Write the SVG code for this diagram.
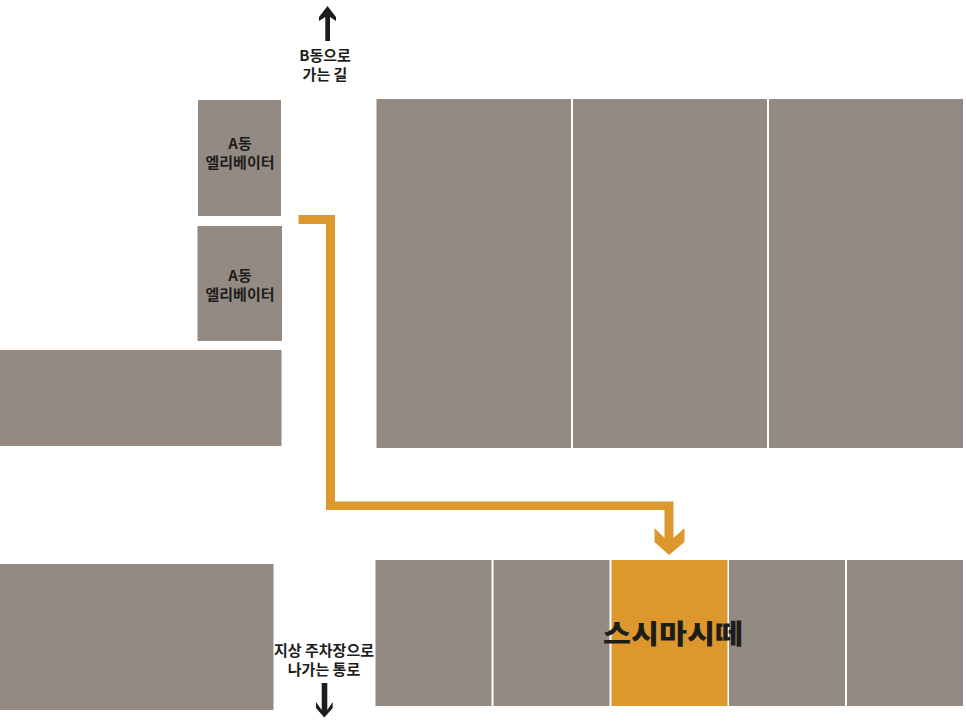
<svg xmlns="http://www.w3.org/2000/svg" width="966" height="728" viewBox="0 0 966 728">
<style>
.b{fill:#928a83}
.o{fill:#dd982d}
.t{font-family:"Noto Sans CJK KR","Liberation Sans",sans-serif;font-weight:700;fill:#1d1d1b;text-anchor:middle;font-size:15px}
.a{fill:#1d1d1b}
</style>
<rect width="966" height="728" fill="#fff"/>
<g id="elevator-a1"><rect class="b" x="198" y="100" width="83" height="116"/><text class="t" x="240" y="149">A동</text><text class="t" x="240" y="168">엘리베이터</text></g>
<g id="elevator-a2"><rect class="b" x="197.500" y="226" width="84.500" height="115"/><text class="t" x="240" y="281">A동</text><text class="t" x="240" y="300">엘리베이터</text></g>
<g id="block-left-mid"><rect class="b" x="0" y="350" width="281.500" height="96"/></g>
<g id="block-left-low"><rect class="b" x="0" y="564" width="273.500" height="146"/></g>
<g id="upper-1"><rect class="b" x="376.500" y="99" width="194.500" height="349"/></g>
<g id="upper-2"><rect class="b" x="573" y="99" width="194" height="349"/></g>
<g id="upper-3"><rect class="b" x="769" y="99" width="194" height="349"/></g>
<g id="lower-1"><rect class="b" x="375.500" y="560" width="116" height="146"/></g>
<g id="lower-2"><rect class="b" x="493.500" y="560" width="116" height="146"/></g>
<g id="lower-4"><rect class="b" x="729" y="560" width="116" height="146"/></g>
<g id="lower-5"><rect class="b" x="847" y="560" width="116" height="146"/></g>
<g id="sushi"><rect class="o" x="611.500" y="560" width="116" height="146"/><text class="t" x="673" y="644" style="font-size:27px;font-weight:900" textLength="140" lengthAdjust="spacingAndGlyphs">스시마시떼</text></g>
<g id="label-b"><text class="t" x="325" y="61">B동으로</text><text class="t" x="325" y="80">가는 길</text></g>
<g id="label-exit"><text class="t" x="324" y="656">지상 주차장으로</text><text class="t" x="324" y="675">나가는 통로</text></g>
<g id="connectors">
<path class="a" d="M325.300 41V17L319 21V17L327.500 6L336 17V21L330 17V41Z"/>
<path class="a" d="M321.700 683H327.300V710L332.700 702V708L324.300 717.500L316 708V702L321.700 710Z"/>
<path class="o" d="M298.500 215H335V501.500H673.500V538L684.500 528V542L669 555L654.500 542V528L664.500 538V510H326V224H298.500Z"/>
</g>
</svg>
